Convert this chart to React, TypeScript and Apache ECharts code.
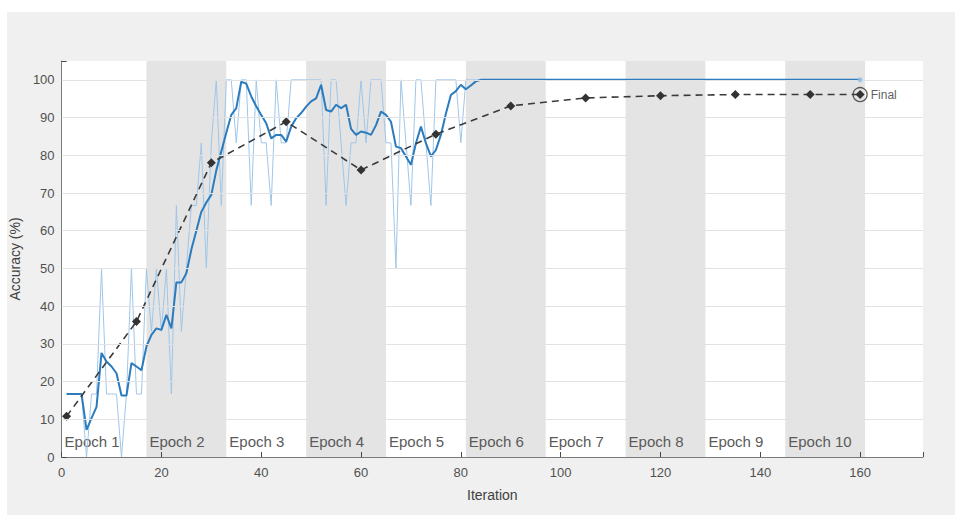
import React, { useEffect, useRef } from "react";
import * as echarts from "echarts";

const FONT = "'Liberation Sans', Arial, Helvetica, sans-serif";

// training minibatch accuracy per iteration (iterations 1..160)
const rawAccuracy = [
  16.7, 16.7, 16.7, 16.7, 0, 16.7, 16.7, 50, 16.7, 16.7,
  16.7, 0, 16.7, 50, 16.7, 16.7, 50, 33.3, 50, 33.3,
  50, 16.7, 66.7, 33.3, 50, 66.7, 66.7, 83.3, 50, 83.3,
  100, 66.7, 100, 100, 83.3, 100, 100, 66.7, 100, 83.3,
  83.3, 66.7, 100, 83.3, 83.3, 100, 100, 100, 100, 100,
  100, 100, 66.7, 100, 100, 83.3, 66.7, 83.3, 83.3, 100,
  83.3, 100, 100, 100, 83.3, 83.3, 50, 100, 83.3, 66.7,
  100, 100, 83.3, 66.7, 100, 100, 100, 100, 100, 83.3,
  100, 100, 100, 100, 100, 100, 100, 100, 100, 100,
  100, 100, 100, 100, 100, 100, 100, 100, 100, 100,
  100, 100, 100, 100, 100, 100, 100, 100, 100, 100,
  100, 100, 100, 100, 100, 100, 100, 100, 100, 100,
  100, 100, 100, 100, 100, 100, 100, 100, 100, 100,
  100, 100, 100, 100, 100, 100, 100, 100, 100, 100,
  100, 100, 100, 100, 100, 100, 100, 100, 100, 100,
  100, 100, 100, 100, 100, 100, 100, 100, 100, 100,
];

// smoothed training accuracy (iterations 1..160)
const smoothedAccuracy = [
  16.7, 16.7, 16.7, 16.7, 7.2, 10.3, 13.3, 27.6, 25.3, 24,
  22.2, 16.3, 16.3, 24.9, 24, 23, 29.3, 32.4, 34.1, 33.7,
  37.7, 34.1, 46.3, 46.3, 48.7, 55, 60, 65, 67.5, 69.5,
  76, 81, 86, 90.7, 92.5, 99.5, 99, 95.6, 93, 90.7,
  88.5, 84.5, 85.4, 85.4, 83.6, 87.6, 89.8, 91.2, 92.9, 94.3,
  95.1, 98.7, 92, 91.6, 93.4, 92.5, 93.4, 87, 85.4, 86.3,
  86, 85.4, 88, 91.6, 90.7, 88.9, 82.3, 81.9, 79.7, 77.5,
  83.2, 87.6, 83.2, 79.7, 81.4, 85.4, 91, 96, 97, 98.7,
  97.5, 98.5, 99.6, 100, 100, 100, 100, 100, 100, 100,
  100, 100, 100, 100, 100, 100, 100, 100, 100, 100,
  100, 100, 100, 100, 100, 100, 100, 100, 100, 100,
  100, 100, 100, 100, 100, 100, 100, 100, 100, 100,
  100, 100, 100, 100, 100, 100, 100, 100, 100, 100,
  100, 100, 100, 100, 100, 100, 100, 100, 100, 100,
  100, 100, 100, 100, 100, 100, 100, 100, 100, 100,
  100, 100, 100, 100, 100, 100, 100, 100, 100, 100,
];

const validationIterations = [1, 15, 30, 45, 60, 75, 90, 105, 120, 135, 150, 160];
const validationAccuracy = [10.8, 35.9, 78, 88.9, 76.1, 85.6, 93.1, 95.2, 95.8, 96.1, 96.1, 96.1];

const epochLabels = ["Epoch 1", "Epoch 2", "Epoch 3", "Epoch 4", "Epoch 5", "Epoch 6", "Epoch 7", "Epoch 8", "Epoch 9", "Epoch 10"];
const epochStarts = [0, 17, 33, 49, 65, 81, 97, 113, 129, 145];
const epochEnds = [17, 33, 49, 65, 81, 97, 113, 129, 145, 161];

const gridValues = [10, 20, 30, 40, 50, 60, 70, 80, 90, 100];

const finalIteration = 160;
const finalValidation = 96.1;
const finalTraining = 100;

export default function App() {
  const ref = useRef<HTMLDivElement>(null);

  useEffect(() => {
    if (!ref.current) return;
    const chart = echarts.init(ref.current, undefined, { renderer: "svg" });

    const rawData = rawAccuracy.map((v, i) => [i + 1, v]);
    const smoothData = smoothedAccuracy.map((v, i) => [i + 1, v]);
    const valData = validationIterations.map((it, i) => [it, validationAccuracy[i]]);

    const bands = epochLabels.map((name, i) => [
      {
        name,
        xAxis: epochStarts[i],
        itemStyle: { color: i % 2 === 1 ? "rgba(0,0,0,0.105)" : "rgba(0,0,0,0)" },
      },
      { xAxis: epochEnds[i] },
    ]);

    const option: any = {
      animation: false,
      textStyle: { fontFamily: FONT },
      graphic: [
        {
          type: "rect",
          z: -10,
          silent: true,
          shape: { x: 7, y: 12, width: 948, height: 503 },
          style: { fill: "#f0f0f0" },
        },
      ],
      grid: {
        left: 60,
        top: 61,
        width: 863,
        height: 396,
        show: true,
        backgroundColor: "#ffffff",
        borderWidth: 0,
      },
      xAxis: {
        type: "value",
        min: 0,
        max: 172.6,
        interval: 20,
        name: "Iteration",
        nameLocation: "middle",
        nameGap: 31,
        nameTextStyle: { color: "#404040", fontSize: 14, fontFamily: FONT },
        axisLine: { show: true, onZero: false, lineStyle: { color: "#7a7a7a", width: 1 } },
        axisTick: { show: true, inside: true, length: 5, lineStyle: { color: "#4a4a4a" } },
        axisLabel: {
          color: "#505050",
          fontSize: 13,
          margin: 9,
          fontFamily: FONT,
          formatter: (v: number) => (v > 160 ? "" : String(v)),
        },
        splitLine: { show: false },
      },
      yAxis: {
        type: "value",
        min: 0,
        max: 105,
        interval: 10,
        name: "Accuracy (%)",
        nameLocation: "middle",
        nameGap: 36,
        nameRotate: 90,
        nameTextStyle: { color: "#404040", fontSize: 14, fontFamily: FONT },
        axisLine: { show: true, lineStyle: { color: "#7a7a7a", width: 1 } },
        axisTick: { show: true, inside: true, length: 5, lineStyle: { color: "#4a4a4a" } },
        axisLabel: {
          color: "#505050",
          fontSize: 13,
          margin: 7,
          fontFamily: FONT,
          formatter: (v: number) => (v > 100 ? "" : String(v)),
        },
        splitLine: { show: false },
      },
      series: [
        {
          name: "bands",
          type: "line",
          data: [],
          z: 1,
          silent: true,
          markArea: {
            silent: true,
            label: {
              show: true,
              position: "insideBottomLeft",
              distance: 3,
              offset: [0, -5],
              color: "#5a5a5a",
              fontSize: 15,
              fontFamily: FONT,
            },
            data: bands,
          },
          markLine: {
            silent: true,
            symbol: "none",
            label: { show: false },
            lineStyle: { color: "#e2e2e2", width: 1, type: "solid" },
            data: gridValues.map((v) => ({ yAxis: v })),
          },
        },
        {
          name: "Training (raw)",
          type: "line",
          data: rawData,
          z: 2,
          showSymbol: false,
          symbol: "none",
          lineStyle: { color: "#9fc6e8", width: 1 },
        },
        {
          name: "Training (smoothed)",
          type: "line",
          data: smoothData,
          z: 3,
          showSymbol: false,
          symbol: "none",
          lineStyle: { color: "#2b7bbd", width: 2 },
        },
        {
          name: "Validation",
          type: "line",
          data: valData,
          z: 4,
          symbol: "diamond",
          symbolSize: 9,
          showSymbol: true,
          itemStyle: { color: "#333333" },
          lineStyle: { color: "#3a3a3a", width: 1.6, type: [7, 5] },
        },
        {
          name: "Final training",
          type: "scatter",
          z: 5,
          data: [[finalIteration, finalTraining]],
          symbol: "circle",
          symbolSize: 5,
          itemStyle: { color: "#8dbde6" },
        },
        {
          name: "Final",
          type: "scatter",
          z: 5,
          data: [[finalIteration, finalValidation]],
          symbol: "circle",
          symbolSize: 14,
          itemStyle: { color: "rgba(0,0,0,0)", borderColor: "#333333", borderWidth: 1.3 },
          label: {
            show: true,
            position: "right",
            distance: 3,
            formatter: "Final",
            color: "#333333",
            fontSize: 12,
            fontFamily: FONT,
          },
        },
      ],
    };

    chart.setOption(option);
    return () => chart.dispose();
  }, []);

  return (
    <div
      ref={ref}
      style={{ position: "absolute", left: 0, top: 0, width: 955, height: 515 }}
    />
  );
}
